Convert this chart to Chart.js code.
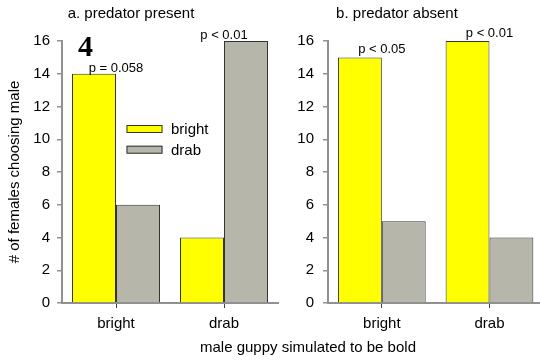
<!DOCTYPE html>
<html>
<head>
<meta charset="utf-8">
<title>guppy choice</title>
<script src="https://cdn.jsdelivr.net/npm/chart.js@4.4.1/dist/chart.umd.min.js"></script>
<style>
html, body { margin: 0; padding: 0; background: #fff; overflow: hidden; }
#wrap { position: relative; width: 540px; height: 362px; overflow: hidden; }
#diagramA { position: absolute; left: 0; top: 0; width: 290px; height: 362px; }
#diagramB { position: absolute; left: 280px; top: 0; width: 280px; height: 362px; }
#xtitel {
    position: absolute; left: 158px; top: 338px; width: 300px;
    text-align: center; color: #000;
    font: 15px "Liberation Sans", Arial, sans-serif; line-height: 18px;
}
</style>
</head>
<body>
<div id="wrap">
    <canvas id="diagramA" width="290" height="362"></canvas>
    <canvas id="diagramB" width="280" height="362"></canvas>
    <div id="xtitel">male guppy simulated to be bold</div>
</div>
<script>
// data
const categories = ["bright", "drab"];
const seriesNames = ["bright", "drab"];
const presentBright = [14, 4];
const presentDrab = [6, 16];
const absentBright = [15, 16];
const absentDrab = [5, 4];
const presentP = ["p = 0.058", "p < 0.01"];
const absentP = ["p < 0.05", "p < 0.01"];
const yMin = 0;
const yMax = 16;
const yStep = 2;

const SANS = '"Liberation Sans", Arial, sans-serif';
const AXIS_GRAY = "#909090";

/**
 * ritar titel, p-värden, panelnummer och förklaring direkt på canvasen
 */
const panelText = {
    id: "panelText",
    afterDatasetsDraw(chart, args, opts) {
        const { ctx, chartArea, scales: { x, y } } = chart;
        ctx.save();
        ctx.fillStyle = "#000";
        ctx.textAlign = "center";
        ctx.textBaseline = "alphabetic";

        ctx.font = "15px " + SANS;
        ctx.fillText(opts.title, chartArea.left + 69, 18);

        ctx.font = "13px " + SANS;
        opts.pLabels.forEach((txt, i) => {
            const top = Math.max(...chart.data.datasets.map(d => d.data[i]));
            ctx.fillText(txt, x.getPixelForValue(i), y.getPixelForValue(top) - opts.pGap);
        });

        if (opts.panelNr) {
            ctx.textAlign = "left";
            ctx.font = 'bold 30px "Liberation Serif", "Times New Roman", serif';
            ctx.fillText(opts.panelNr, chartArea.left + 16, 56);
        }

        if (opts.legend) {
            ctx.font = "15px " + SANS;
            ctx.textAlign = "left";
            ctx.textBaseline = "middle";
            chart.data.datasets.forEach((d, i) => {
                const bx = chartArea.left + 64.5;
                const cy = chartArea.top + 88 + i * 20.7;
                ctx.fillStyle = d.backgroundColor;
                ctx.fillRect(bx, cy - 4, 36, 8);
                ctx.strokeStyle = d.borderColor;
                ctx.lineWidth = 1;
                ctx.strokeRect(bx + 0.5, cy - 3.5, 35, 7);
                ctx.fillStyle = "#000";
                ctx.fillText(d.label, bx + 44.5, cy + 1);
            });
        }
        ctx.restore();
    }
};

/**
 * skapar en panel med två stapelserier
 */
function makePanel(canvas, brightVals, drabVals, panelOpts, yWidth, padRight, tickPad, yTitle) {
    return new Chart(canvas, {
        type: "bar",
        data: {
            labels: categories,
            datasets: [{
                label: seriesNames[0],
                data: brightVals,
                backgroundColor: "#ffff00",
                borderColor: "#333333",
                borderWidth: 1,
                categoryPercentage: 0.815,
                barPercentage: 1
            }, {
                label: seriesNames[1],
                data: drabVals,
                backgroundColor: "#b6b6aa",
                borderColor: "#333333",
                borderWidth: 1,
                categoryPercentage: 0.815,
                barPercentage: 1
            }]
        },
        options: {
            responsive: false,
            animation: false,
            layout: { padding: { top: 41, right: padRight, bottom: 0, left: 0 } },
            plugins: {
                legend: { display: false },
                tooltip: { enabled: false },
                panelText: panelOpts
            },
            scales: {
                x: {
                    offset: true,
                    ticks: { font: { size: 15, family: SANS }, color: "#000", padding: 7 },
                    grid: { offset: false, drawOnChartArea: false, tickLength: 5, color: "#404040" },
                    border: { color: AXIS_GRAY, width: 2 },
                    afterFit(scale) { scale.height = 59; }
                },
                y: {
                    min: yMin,
                    max: yMax,
                    ticks: { stepSize: yStep, font: { size: 15, family: SANS }, color: "#000", padding: tickPad },
                    grid: { drawOnChartArea: false, tickLength: 5, color: AXIS_GRAY, lineWidth: 1.5 },
                    border: { color: AXIS_GRAY, width: 2 },
                    title: {
                        display: !!yTitle,
                        text: yTitle || "",
                        color: "#000",
                        font: { size: 15, family: SANS },
                        padding: { top: 6, bottom: 0 }
                    },
                    afterFit(scale) { scale.width = yWidth; }
                }
            }
        },
        plugins: [panelText]
    });
}

makePanel(document.getElementById("diagramA"), presentBright, presentDrab,
    { title: "a. predator present", pLabels: presentP, pGap: 2, panelNr: "4", legend: true },
    62, 12, 7, "# of females choosing male");

makePanel(document.getElementById("diagramB"), absentBright, absentDrab,
    { title: "b. predator absent", pLabels: absentP, pGap: 4.5, panelNr: null, legend: false },
    48, 16.7, 9, null);
</script>
</body>
</html>
